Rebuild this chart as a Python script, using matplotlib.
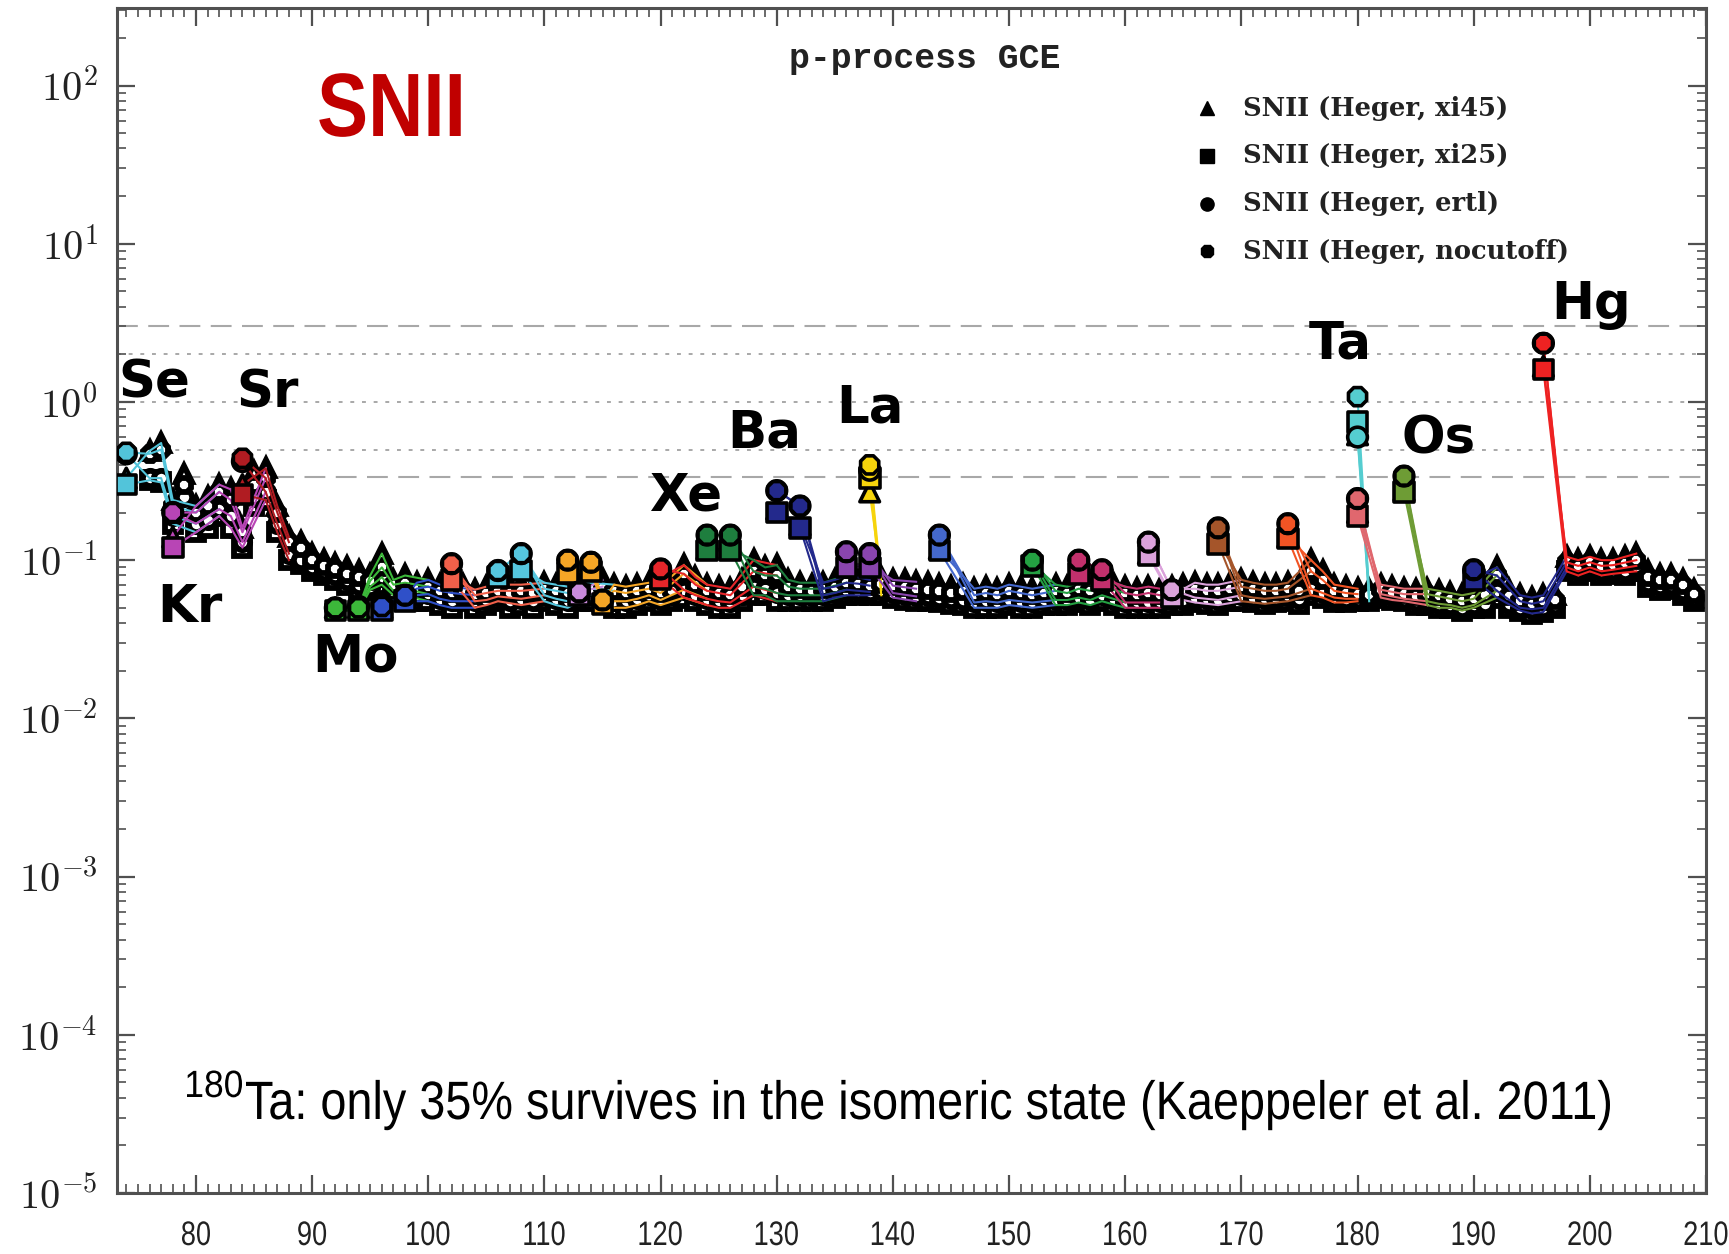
import matplotlib
matplotlib.use("Agg")
import matplotlib.pyplot as plt
from matplotlib.ticker import MultipleLocator, LogLocator, NullFormatter, FixedLocator
from matplotlib.textpath import TextPath
from matplotlib.patches import PathPatch
from matplotlib.font_manager import FontProperties
from matplotlib.transforms import Affine2D

# ---------------------------------------------------------------- data
mass_number = list(range(76, 210))

# overproduction factors of all isotopes (black open symbols), one value per A
band_xi45 = [
    0.49, 0.55, 0.24, 0.35, 0.22, 0.25, 0.30, 0.28, 0.16, 0.36,
    0.38, 0.22, 0.14, 0.13, 0.11, 0.10, 0.095, 0.090, 0.085, 0.080,
    0.11, 0.075, 0.080, 0.072, 0.075, 0.070, 0.068, 0.070, 0.065, 0.068,
    0.070, 0.068, 0.070, 0.068, 0.072, 0.070, 0.068, 0.070, 0.072, 0.075,
    0.070, 0.068, 0.070, 0.072, 0.068, 0.070, 0.093, 0.078, 0.070, 0.068,
    0.066, 0.075, 0.100, 0.090, 0.093, 0.075, 0.072, 0.070, 0.072, 0.075,
    0.080, 0.078, 0.075, 0.078, 0.075, 0.075, 0.073, 0.072, 0.070, 0.068,
    0.070, 0.066, 0.068, 0.066, 0.070, 0.068, 0.066, 0.068, 0.070, 0.068,
    0.072, 0.070, 0.075, 0.070, 0.068, 0.066, 0.068, 0.066, 0.068, 0.070,
    0.072, 0.070, 0.070, 0.072, 0.075, 0.072, 0.070, 0.070, 0.072, 0.070,
    0.100, 0.085, 0.070, 0.068, 0.066, 0.065, 0.070, 0.068, 0.066, 0.065,
    0.066, 0.064, 0.062, 0.060, 0.062, 0.066, 0.090, 0.065, 0.060, 0.058,
    0.060, 0.060, 0.105, 0.100, 0.105, 0.100, 0.100, 0.105, 0.110, 0.085,
    0.080, 0.080, 0.075, 0.065,
]
band_nocutoff = [
    0.47, 0.50, 0.22, 0.30, 0.20, 0.22, 0.27, 0.24, 0.15, 0.30,
    0.33, 0.20, 0.13, 0.12, 0.10, 0.092, 0.088, 0.082, 0.078, 0.074,
    0.090, 0.070, 0.072, 0.066, 0.068, 0.064, 0.062, 0.064, 0.060, 0.062,
    0.064, 0.062, 0.064, 0.062, 0.066, 0.064, 0.062, 0.065, 0.066, 0.068,
    0.064, 0.062, 0.064, 0.066, 0.062, 0.064, 0.082, 0.070, 0.064, 0.062,
    0.060, 0.068, 0.085, 0.080, 0.080, 0.068, 0.066, 0.064, 0.066, 0.068,
    0.072, 0.071, 0.069, 0.071, 0.069, 0.068, 0.066, 0.065, 0.064, 0.062,
    0.064, 0.060, 0.062, 0.060, 0.064, 0.062, 0.060, 0.062, 0.064, 0.062,
    0.066, 0.064, 0.068, 0.064, 0.062, 0.060, 0.062, 0.060, 0.062, 0.064,
    0.066, 0.064, 0.064, 0.066, 0.068, 0.066, 0.064, 0.064, 0.066, 0.064,
    0.085, 0.075, 0.064, 0.062, 0.061, 0.060, 0.065, 0.063, 0.061, 0.059,
    0.061, 0.059, 0.057, 0.055, 0.057, 0.060, 0.080, 0.059, 0.055, 0.053,
    0.055, 0.056, 0.097, 0.092, 0.097, 0.092, 0.093, 0.096, 0.100, 0.078,
    0.075, 0.075, 0.070, 0.061,
]
band_ertl = [
    0.33, 0.33, 0.19, 0.25, 0.17, 0.18, 0.21, 0.19, 0.13, 0.25,
    0.27, 0.17, 0.11, 0.10, 0.090, 0.085, 0.080, 0.075, 0.070, 0.068,
    0.078, 0.064, 0.066, 0.060, 0.061, 0.057, 0.055, 0.059, 0.055, 0.056,
    0.059, 0.055, 0.057, 0.055, 0.060, 0.057, 0.055, 0.060, 0.060, 0.060,
    0.055, 0.055, 0.057, 0.060, 0.056, 0.060, 0.065, 0.060, 0.057, 0.055,
    0.054, 0.060, 0.068, 0.066, 0.062, 0.060, 0.060, 0.059, 0.060, 0.062,
    0.065, 0.064, 0.063, 0.065, 0.062, 0.060, 0.059, 0.059, 0.058, 0.057,
    0.056, 0.054, 0.055, 0.054, 0.056, 0.054, 0.054, 0.056, 0.056, 0.056,
    0.058, 0.056, 0.060, 0.056, 0.054, 0.054, 0.054, 0.054, 0.056, 0.056,
    0.058, 0.057, 0.056, 0.059, 0.060, 0.058, 0.057, 0.058, 0.059, 0.057,
    0.066, 0.062, 0.058, 0.057, 0.057, 0.057, 0.061, 0.059, 0.057, 0.055,
    0.055, 0.053, 0.052, 0.050, 0.052, 0.053, 0.064, 0.053, 0.050, 0.049,
    0.050, 0.052, 0.090, 0.085, 0.090, 0.085, 0.087, 0.086, 0.092, 0.072,
    0.069, 0.070, 0.064, 0.058,
]
band_xi25 = [
    0.32, 0.31, 0.17, 0.22, 0.15, 0.16, 0.19, 0.16, 0.12, 0.22,
    0.24, 0.15, 0.10, 0.095, 0.085, 0.080, 0.075, 0.070, 0.065, 0.065,
    0.070, 0.060, 0.060, 0.055, 0.055, 0.052, 0.050, 0.055, 0.050, 0.052,
    0.055, 0.050, 0.052, 0.050, 0.055, 0.052, 0.050, 0.055, 0.055, 0.055,
    0.050, 0.050, 0.052, 0.055, 0.052, 0.055, 0.058, 0.055, 0.052, 0.050,
    0.050, 0.055, 0.060, 0.060, 0.055, 0.055, 0.055, 0.055, 0.055, 0.058,
    0.060, 0.060, 0.060, 0.060, 0.058, 0.056, 0.055, 0.055, 0.054, 0.053,
    0.052, 0.050, 0.050, 0.050, 0.052, 0.050, 0.050, 0.052, 0.052, 0.052,
    0.054, 0.052, 0.055, 0.052, 0.050, 0.050, 0.050, 0.050, 0.052, 0.052,
    0.054, 0.053, 0.052, 0.055, 0.055, 0.054, 0.053, 0.054, 0.055, 0.053,
    0.060, 0.058, 0.054, 0.054, 0.055, 0.055, 0.058, 0.056, 0.055, 0.052,
    0.052, 0.050, 0.050, 0.048, 0.050, 0.050, 0.058, 0.050, 0.048, 0.046,
    0.047, 0.050, 0.085, 0.080, 0.085, 0.080, 0.082, 0.080, 0.085, 0.068,
    0.065, 0.066, 0.060, 0.055,
]

# p-nuclei (coloured symbols)
p_mass = [74, 78, 84, 92, 94, 96, 98, 102, 106, 108, 113, 112, 114, 115,
          120, 124, 126, 130, 132, 136, 138, 138, 144, 152, 156, 158, 162,
          164, 168, 174, 180, 180, 184, 190, 196]
p_element = ["Se", "Kr", "Sr", "Mo", "Mo", "Ru", "Ru", "Pd", "Cd", "Cd", "In",
             "Sn", "Sn", "Sn", "Te", "Xe", "Xe", "Ba", "Ba", "Ce", "Ce", "La",
             "Sm", "Gd", "Dy", "Dy", "Er", "Er", "Yb", "Hf", "Ta", "W", "Os",
             "Pt", "Hg"]
p_xi45 = [0.33, 0.14, 0.30, 0.050, 0.050, 0.050, 0.057, 0.078, 0.080, 0.088,
          0.063, 0.085, 0.087, 0.055, 0.078, 0.118, 0.118, 0.21, 0.167, 0.093,
          0.093, 0.27, 0.118, 0.095, 0.085, 0.077, 0.110, 0.060, 0.130, 0.140,
          0.62, 0.20, 0.276, 0.077, 1.68]
p_xi25 = [0.30, 0.12, 0.26, 0.048, 0.048, 0.048, 0.055, 0.075, 0.078, 0.086,
          0.060, 0.083, 0.085, 0.053, 0.076, 0.115, 0.115, 0.20, 0.160, 0.090,
          0.090, 0.33, 0.115, 0.092, 0.082, 0.075, 0.107, 0.058, 0.127, 0.137,
          0.75, 0.19, 0.270, 0.075, 1.60]
p_ertl = [0.47, 0.20, 0.42, 0.050, 0.051, 0.052, 0.060, 0.095, 0.086, 0.110,
          0.063, 0.100, 0.097, 0.056, 0.088, 0.144, 0.144, 0.275, 0.22, 0.113,
          0.110, 0.37, 0.144, 0.100, 0.100, 0.087, 0.130, 0.065, 0.160, 0.170,
          0.60, 0.245, 0.34, 0.087, 2.35]
p_nocutoff = [0.48, 0.20, 0.44, 0.050, 0.050, 0.051, 0.060, 0.095, 0.086, 0.110,
              0.063, 0.100, 0.097, 0.056, 0.088, 0.144, 0.144, 0.275, 0.22, 0.113,
              0.110, 0.40, 0.144, 0.100, 0.100, 0.087, 0.130, 0.065, 0.160, 0.170,
              1.08, 0.245, 0.34, 0.087, 2.35]

# stable isotopes of each element carrying a p-nucleus
element_isotopes = {
    "Se": [74, 76, 77, 78, 80, 82],
    "Kr": [78, 80, 82, 83, 84, 86],
    "Sr": [84, 86, 87, 88],
    "Mo": [92, 94, 95, 96, 97, 98, 100],
    "Ru": [96, 98, 99, 100, 101, 102, 104],
    "Pd": [102, 104, 105, 106, 108, 110],
    "Cd": [106, 108, 110, 111, 112, 113, 114, 116],
    "In": [113, 115],
    "Sn": [112, 114, 115, 116, 117, 118, 119, 120, 122, 124],
    "Te": [120, 122, 123, 124, 125, 126, 128, 130],
    "Xe": [124, 126, 128, 129, 130, 131, 132, 134, 136],
    "Ba": [130, 132, 134, 135, 136, 137, 138],
    "La": [138, 139],
    "Ce": [136, 138, 140, 142],
    "Sm": [144, 147, 148, 149, 150, 152, 154],
    "Gd": [152, 154, 155, 156, 157, 158, 160],
    "Dy": [156, 158, 160, 161, 162, 163, 164],
    "Er": [162, 164, 166, 167, 168, 170],
    "Yb": [168, 170, 171, 172, 173, 174, 176],
    "Hf": [174, 176, 177, 178, 179, 180],
    "Ta": [180, 181],
    "W": [180, 182, 183, 184, 186],
    "Os": [184, 186, 187, 188, 189, 190, 192],
    "Pt": [190, 192, 194, 195, 196, 198],
    "Hg": [196, 198, 199, 200, 201, 202, 204],
}
element_colors = {
    "Se": "#52C4DA", "Kr": "#B845B5", "Sr": "#B01C22", "Mo": "#3CB83A",
    "Ru": "#2F50C8", "Pd": "#F0604A", "Cd": "#55C6DE", "In": "#C98BDB",
    "Sn": "#F5A626", "Te": "#E6262A", "Xe": "#1E7E3E", "Ba": "#23298C",
    "La": "#F6D40C", "Ce": "#8A45AE", "Sm": "#4468CC", "Gd": "#24A042",
    "Dy": "#C2306C", "Er": "#DBA2DB", "Yb": "#A5552A", "Hf": "#F25424",
    "Ta": "#55CDD0", "W": "#E0676E", "Os": "#6E9C35", "Pt": "#22288C",
    "Hg": "#EE2222",
}

legend_labels = ["SNII (Heger, xi45)", "SNII (Heger, xi25)",
                 "SNII (Heger, ertl)", "SNII (Heger, nocutoff)"]
model_markers = ["^", "s", "o", "8"]
band_models = [band_xi45, band_xi25, band_ertl, band_nocutoff]
p_models = [p_xi45, p_xi25, p_ertl, p_nocutoff]

element_labels = ["Se", "Sr", "Kr", "Mo", "Xe", "Ba", "La", "Ta", "Os", "Hg"]
element_label_pos = [(0.0233, 0.683), (0.095, 0.675), (0.046, 0.494),
                     (0.150, 0.452), (0.358, 0.588), (0.407, 0.641),
                     (0.474, 0.662), (0.770, 0.716), (0.832, 0.636),
                     (0.928, 0.749)]

x_ticks = [80, 90, 100, 110, 120, 130, 140, 150, 160, 170, 180, 190, 200, 210]
y_ticks = [1e-5, 1e-4, 1e-3, 1e-2, 1e-1, 1e0, 1e1, 1e2]
y_ticklabels = [r"$10^{-5}$", r"$10^{-4}$", r"$10^{-3}$", r"$10^{-2}$",
                r"$10^{-1}$", r"$10^{0}$", r"$10^{1}$", r"$10^{2}$"]

note_text = "Ta: only 35% survives in the isomeric state (Kaeppeler et al. 2011)"

plt.rcParams["mathtext.fontset"] = "cm"

# ---------------------------------------------------------------- figure
W, H = 1729, 1254
fig = plt.figure(figsize=(W / 100, H / 100), dpi=100)
ax = fig.add_axes([117 / W, 1 - 1193 / H, (1706 - 117) / W, (1193 - 8) / H])
ax.set_yscale("log")
ax.set_xlim(73.2, 210)
ax.set_ylim(1e-5, 10 ** 2.49)


def narrow_text(s, x, y_top, size, sx=0.82, width=None, ha="left",
                va="baseline", color="black", weight="normal",
                family="Liberation Sans"):
    """Draw a horizontally condensed string; x, y_top in pixels from top-left."""
    fp = FontProperties(family=family, weight=weight)
    tp = TextPath((0, 0), s, size=size, prop=fp)
    ext = tp.get_extents()
    if width is not None:
        sx = width / ext.width
    x0 = {"left": ext.x0, "center": 0.5 * (ext.x0 + ext.x1), "right": ext.x1}[ha]
    y0 = {"baseline": 0.0, "center": 0.5 * (ext.y0 + ext.y1), "top": ext.y1}[va]
    tr = Affine2D().translate(-x0, -y0).scale(sx, 1.0).translate(x, H - y_top)
    fig.add_artist(PathPatch(tp, transform=tr, facecolor=color,
                             edgecolor="none", lw=0))


# reference lines (factor 2 and 3 around unity)
grey = "#A8A8A8"
for yv in (3.0, 1.0 / 3.0):
    ax.axhline(yv, color=grey, lw=1.5, ls=(0, (10, 5)), zorder=1)
for yv in (2.0, 1.0, 0.5):
    ax.axhline(yv, color=grey, lw=1.4, ls=(0, (2, 4)), zorder=1)

# all isotopes: open black symbols
for mk, vals in zip(model_markers, band_models):
    ax.plot(mass_number, vals, ls="none", marker=mk, ms=11, mfc="white",
            mec="black", mew=4.2, zorder=2)

# element chains
p_lookup = {}
for m_idx, pv in enumerate(p_models):
    for a, el, v in zip(p_mass, p_element, pv):
        p_lookup[(m_idx, el, a)] = v

for el, isos in element_isotopes.items():
    for m_idx, bv in enumerate(band_models):
        ys = []
        for a in isos:
            if (m_idx, el, a) in p_lookup:
                ys.append(p_lookup[(m_idx, el, a)])
            else:
                ys.append(bv[mass_number.index(a)])
        ax.plot(isos, ys, color=element_colors[el], lw=1.5, zorder=3)

# p-nuclei: filled coloured symbols
p_colors = [element_colors[e] for e in p_element]
for mk, pv in zip(model_markers, p_models):
    ax.scatter(p_mass, pv, marker=mk, s=200, c=p_colors, edgecolors="black",
               linewidths=2.6, zorder=4)

# ---------------------------------------------------------------- axes style
spine_c = "#505050"
for sp in ax.spines.values():
    sp.set_color(spine_c)
    sp.set_linewidth(2.2)
ax.xaxis.set_major_locator(FixedLocator(x_ticks))
ax.xaxis.set_minor_locator(MultipleLocator(1))
ax.set_xticklabels([])
ax.yaxis.set_major_locator(FixedLocator(y_ticks))
ax.yaxis.set_minor_locator(LogLocator(base=10, subs=range(2, 10), numticks=20))
ax.yaxis.set_minor_formatter(NullFormatter())
ax.set_yticklabels(y_ticklabels, fontsize=29, color="#222222")
ax.tick_params(which="both", direction="in", top=True, right=True,
               color=spine_c)
ax.tick_params(which="major", length=13, width=1.6)
ax.tick_params(which="minor", length=6.5, width=1.2)
ax.tick_params(axis="y", which="major", pad=14)

# condensed x tick labels
for t in x_ticks:
    xpix = ax.transData.transform((t, 1.0))[0]
    narrow_text(str(t), xpix, 1245, 34, sx=0.8, ha="center", color="#222222")

# ---------------------------------------------------------------- texts
narrow_text("SNII", 390, 136, 90, sx=0.85, ha="center", weight="bold",
            color="#C00000")
ax.text(0.5085, 0.9578, "p-process GCE", transform=ax.transAxes,
        ha="center", va="center", fontsize=25, family="Liberation Mono",
        fontweight="bold", color="#222222")

leg_y = [0.9156, 0.8755, 0.8346, 0.7946]
for lab, mk, yy in zip(legend_labels, model_markers, leg_y):
    ax.plot([0.686], [yy], transform=ax.transAxes, marker=mk, ms=9.5,
            color="black", ls="none", clip_on=False)
    ax.text(0.7086, yy, lab, transform=ax.transAxes, ha="left", va="center",
            fontsize=18.5, family="DejaVu Serif", fontweight="bold",
            color="#222222")

for lab, (xa, ya) in zip(element_labels, element_label_pos):
    ax.text(xa, ya, lab, transform=ax.transAxes, ha="center", va="center",
            fontsize=37, fontweight="bold", color="black")

# isotope note with superscript mass number
narrow_text("180", 187, 1097, 38, width=55, ha="left")
narrow_text(note_text, 246, 1119, 54, width=1364, ha="left")

fig.savefig("out.png", dpi=100)
